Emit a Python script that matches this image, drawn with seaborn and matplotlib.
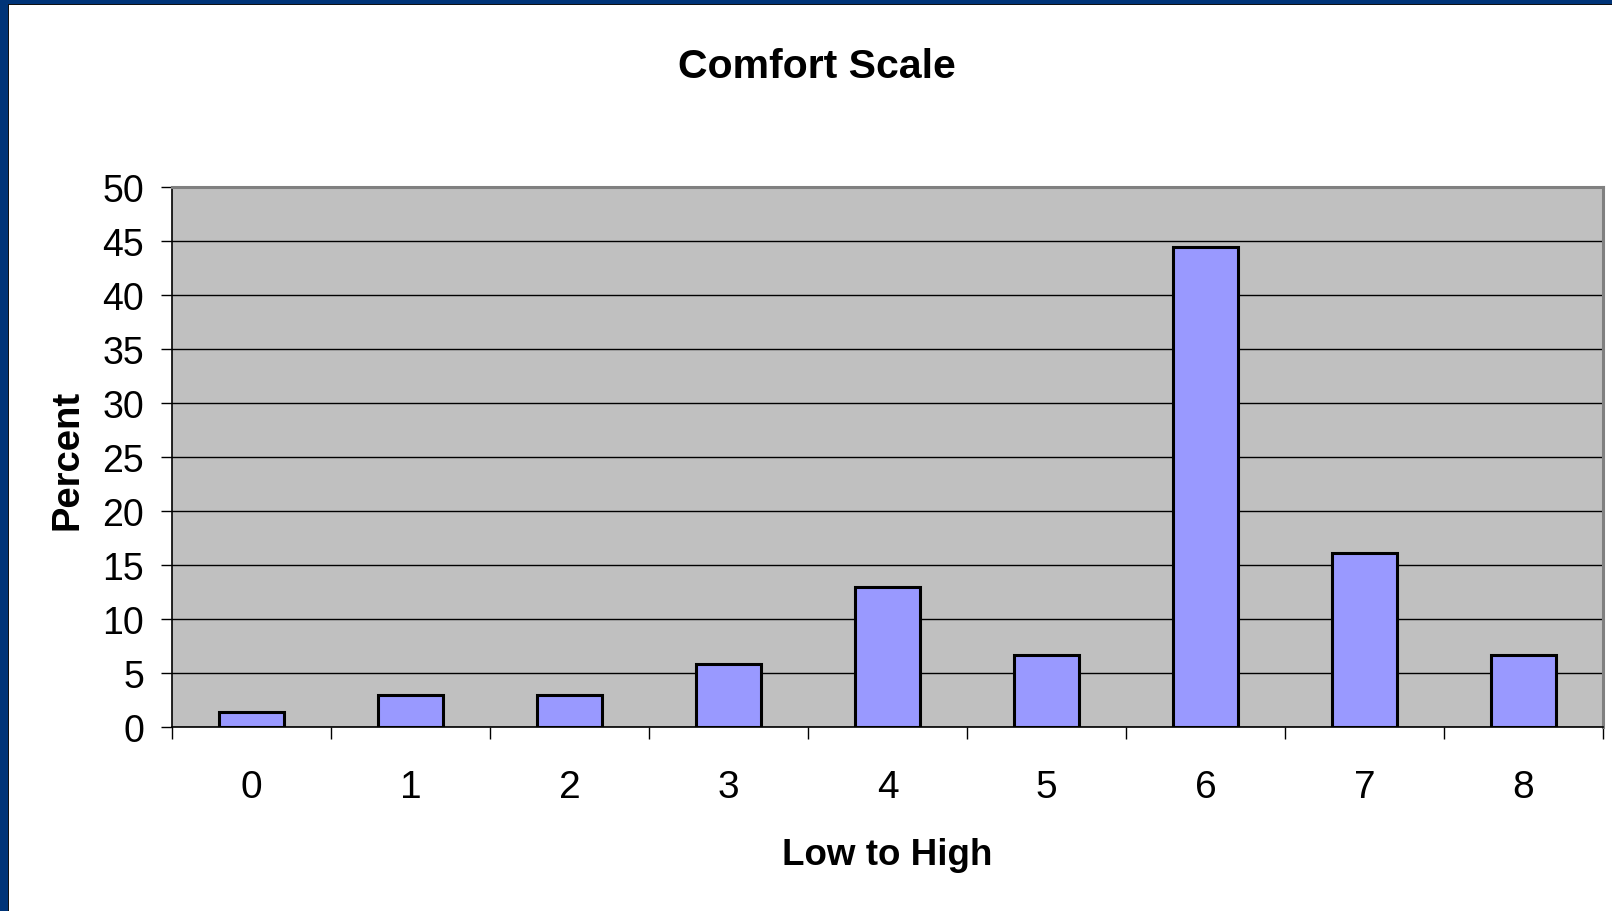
import matplotlib
matplotlib.use("Agg")
import matplotlib.pyplot as plt
import seaborn as sns
import pandas as pd
from matplotlib.patches import Rectangle
from matplotlib.ticker import FixedLocator

categories = ["0", "1", "2", "3", "4", "5", "6", "7", "8"]
percent = [1.4, 3.0, 3.0, 5.8, 13.0, 6.7, 44.4, 16.1, 6.7]
yticks = [0, 5, 10, 15, 20, 25, 30, 35, 40, 45, 50]

sns.set_theme(style="white")
plt.rcParams['font.family'] = ['Liberation Sans', 'DejaVu Sans']

W, H = 1612, 912
fig = plt.figure(figsize=(W / 100, H / 100), dpi=100)
fig.patch.set_facecolor("white")

# blue frame (left and top)
fig.patches.append(Rectangle((0, 0), 8 / W, 1, transform=fig.transFigure,
                             facecolor="#003478", edgecolor="none", zorder=0))
fig.patches.append(Rectangle((0, 1 - 5 / H), 1, 5 / H, transform=fig.transFigure,
                             facecolor="#003478", edgecolor="none", zorder=0))
fig.patches.append(Rectangle((8 / W, 0), 1.2 / W, 1 - 5 / H, transform=fig.transFigure,
                             facecolor="#111111", edgecolor="none", zorder=0))
fig.patches.append(Rectangle((8 / W, 1 - 6.2 / H), 1, 1.2 / H, transform=fig.transFigure,
                             facecolor="#111111", edgecolor="none", zorder=0))

left, right, bottom, top = 172 / W, 1603 / W, 1 - 728 / H, 1 - 188 / H
ax = fig.add_axes([left, bottom, right - left, top - bottom])
ax.set_facecolor("#C0C0C0")

df = pd.DataFrame({"cat": categories, "pct": percent})
sns.barplot(data=df, x="cat", y="pct", color="#9999FF", width=0.41,
            edgecolor="black", linewidth=2.2, saturation=1, ax=ax, zorder=3)

ax.set_xlim(-0.5, len(categories) - 0.5)
ax.set_ylim(0, 50)
ax.set_yticks(yticks)
ax.set_yticklabels([str(t) for t in yticks])
ax.yaxis.grid(True, color="black", linewidth=1.0, zorder=1)
ax.set_axisbelow(True)

ax.xaxis.set_minor_locator(FixedLocator([i - 0.5 for i in range(len(categories) + 1)]))
ax.tick_params(axis="x", which="major", length=0, pad=30, labelsize=28, colors="black")
ax.tick_params(axis="x", which="minor", length=8.6, width=1.0, color="black", direction="out", bottom=True)
ax.tick_params(axis="y", which="major", length=8, width=1.0, color="black", direction="out",
               left=True, pad=12, labelsize=27, labelcolor="black")

for s in ["left", "bottom"]:
    ax.spines[s].set_color("black")
    ax.spines[s].set_linewidth(1.2)
for s in ["top", "right"]:
    ax.spines[s].set_color("#808080")
    ax.spines[s].set_linewidth(2.2)

ax.set_xlabel("")
ax.set_ylabel("")
fig.text(67 / W, 1 - 460 / H, "Percent", rotation=90, ha="center", va="center",
         fontsize=27.5, fontweight="bold", color="black")
fig.text(887 / W, 1 - 856 / H, "Low to High", ha="center", va="center",
         fontsize=26.5, fontweight="bold", color="black")
fig.text(817 / W, 1 - 67 / H, "Comfort Scale", ha="center", va="center",
         fontsize=29.5, fontweight="bold", color="black")

fig.savefig("out.png", dpi=100, facecolor=fig.get_facecolor())
